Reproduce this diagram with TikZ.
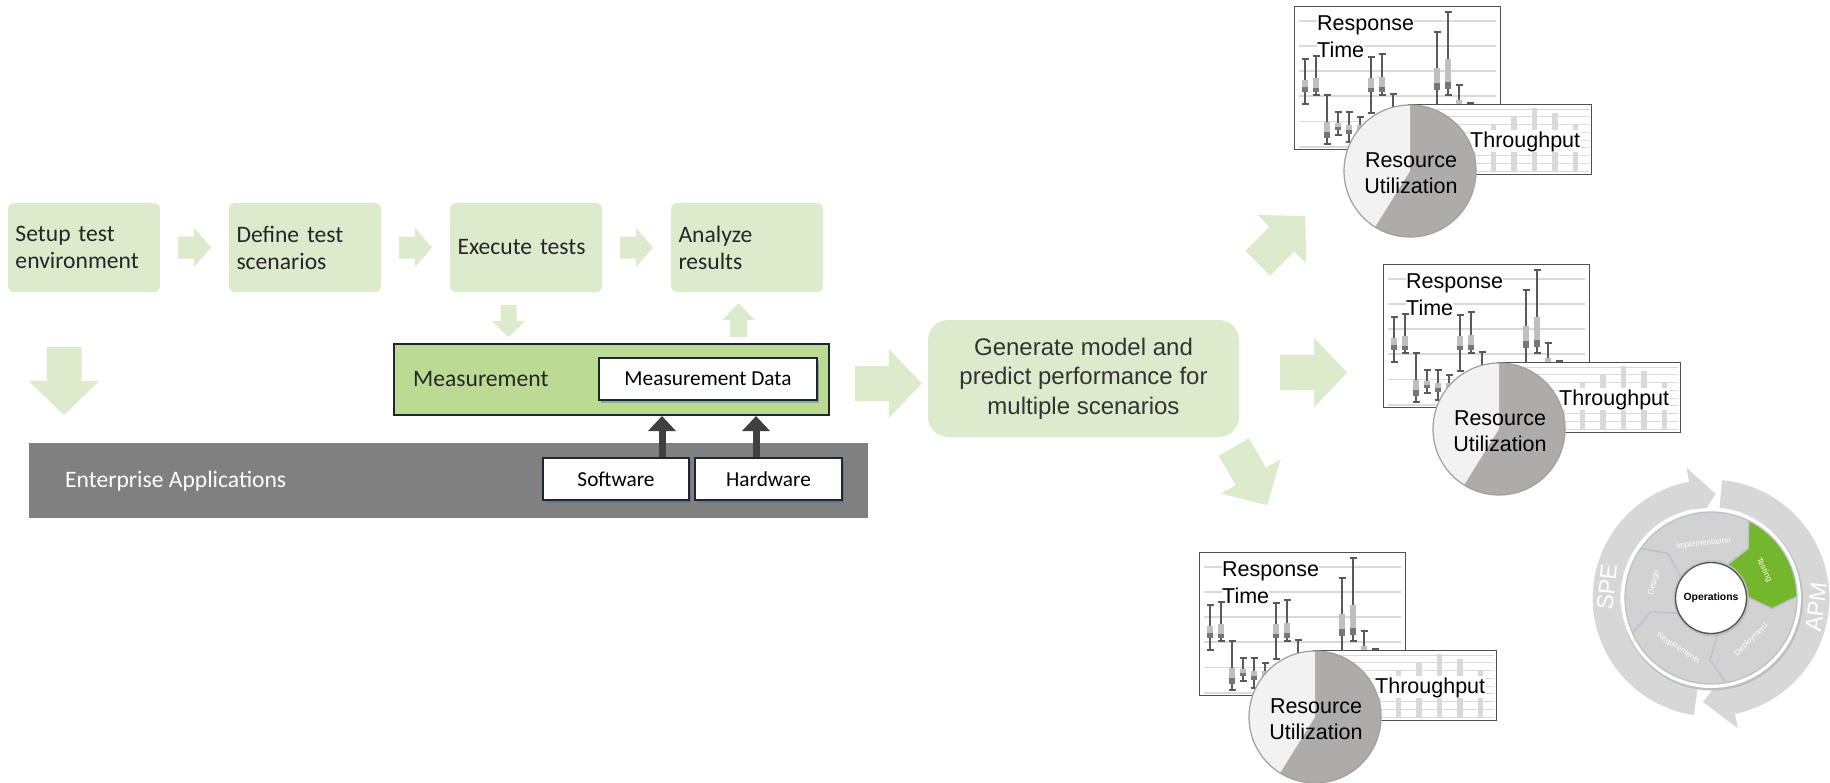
\documentclass[tikz,border=0pt]{standalone}
\usepackage{fontspec}
\setmainfont{Carlito}
\newfontfamily\arial{Liberation Sans}
\usetikzlibrary{arrows.meta,calc,shadows}

\definecolor{stepgreen}{RGB}{221,235,205}
\definecolor{measgreen}{RGB}{187,219,149}
\definecolor{navy}{RGB}{30,38,52}
\definecolor{entgray}{RGB}{128,128,128}
\definecolor{arrowdark}{RGB}{64,64,64}
\definecolor{txtdark}{RGB}{38,38,38}
\definecolor{gentxt}{RGB}{51,51,51}
\definecolor{shadowblue}{RGB}{70,100,140}
\definecolor{framegray}{RGB}{80,80,80}
\definecolor{gridgray}{RGB}{217,217,217}
\definecolor{whiskgray}{RGB}{89,89,89}
\definecolor{boxltgray}{RGB}{191,191,191}
\definecolor{boxdkgray}{RGB}{118,118,118}
\definecolor{barsgray}{RGB}{217,217,217}
\definecolor{pielight}{RGB}{242,242,242}
\definecolor{piedark}{RGB}{174,171,170}
\definecolor{pieedge}{RGB}{160,160,160}
\definecolor{ringgray}{RGB}{215,215,215}
\definecolor{seggray}{RGB}{210,210,210}
\definecolor{segline}{RGB}{188,194,202}
\definecolor{testgreen}{RGB}{116,182,44}
\definecolor{rimshadow}{RGB}{190,190,190}

\newcommand\fntStep{\fontsize{23.6}{27}\selectfont}
\newcommand\fntSmall{\fontsize{21.3}{25}\selectfont}
\newcommand\fntGen{\arial\fontsize{24}{29.5}\selectfont}
\newcommand\fntChart{\arial\fontsize{21.5}{26}\selectfont}
\newcommand\fntSeg{\arial\fontsize{8}{9.6}\selectfont}
\newcommand\fntOps{\arial\bfseries\fontsize{10.4}{12}\selectfont}
\newcommand\fntRing{\arial\fontsize{23}{27}\selectfont}

% block arrow centred on a coordinate: #1 centre, #2 angle, #3 length,
% #4 head length, #5 shaft half width, #6 head half width, #7 colour
\newcommand\blockarrow[7]{%
  \fill[#7, shift={(#1)}, rotate=#2]
    (-#3/2,-#5) -- (#3/2-#4,-#5) -- (#3/2-#4,-#6) -- (#3/2,0)
    -- (#3/2-#4,#6) -- (#3/2-#4,#5) -- (-#3/2,#5) -- cycle;}

% box-and-whisker: x, top, bottom, box top, median, box bottom
\newcommand\ebar[6]{%
  \draw[whisk] (#1,#2) -- (#1,#3) (#1-3.5,#2) -- (#1+3.5,#2) (#1-3.5,#3) -- (#1+3.5,#3);
  \fill[boxltgray] (#1-2.8,#4) rectangle (#1+2.8,#5);
  \fill[boxdkgray] (#1-2.8,#5) rectangle (#1+2.8,#6);}

% throughput bar: x, top
\newcommand\tpbar[2]{\fill[barsgray] (#1-2.7,#2) rectangle (#1+2.7,172);}

% one group of performance charts: #1 name prefix, #2/#3 offset
\newcommand\perfcluster[3]{%
 \begin{scope}[shift={(#2,#3)}]
  \node[panel, anchor=north west, minimum width=206pt, minimum height=143pt] (#1rt) at (1294,6) {};
  \foreach \gy in {20.7,45.9,71.1,96.3,121.5,146.7}
    \draw[gridln] (1299,\gy) -- (1496,\gy);
  \node[chartlbl, fill=white, anchor=base west] (#1rtA) at (1317,30) {Response};
  \node[chartlbl, fill=white, anchor=base west] (#1rtB) at (1317,57) {Time};
  \ebar{1305}{59}{104}{80}{87}{92}
  \ebar{1316}{56}{95}{78}{88}{92}
  \ebar{1327}{95}{144}{122}{132}{138}
  \ebar{1338}{112}{135}{123}{127}{130}
  \ebar{1349}{112}{142}{125}{130}{134}
  \ebar{1360}{117}{145}{125}{131}{136}
  \ebar{1371}{57}{113}{78}{88}{92}
  \ebar{1382}{54}{95}{77}{87}{92}
  \ebar{1393}{94}{140}{110}{118}{124}
  \ebar{1437}{32}{120}{68}{83}{90}
  \ebar{1448}{12}{95}{59}{82}{89}
  \ebar{1459}{85}{130}{100}{108}{114}
  \ebar{1470}{103}{130}{110}{116}{120}
  \node[panel, anchor=north west, minimum width=183pt, minimum height=70pt] (#1tp) at (1408,104) {};
  \foreach \k in {0,...,8}
    \draw[gridthin] (1411,109+\k*7.75) -- (1589,109+\k*7.75);
  \tpbar{1473}{135}\tpbar{1493.5}{124}\tpbar{1514}{117}
  \tpbar{1534.5}{108}\tpbar{1555}{113}\tpbar{1575.5}{124}
  \node[chartlbl, fill=white, inner sep=1pt, anchor=base west] (#1tpl) at (1469,147) {Throughput};
  \coordinate (#1pc) at (1410,171);
  \fill[piedark] (#1pc) circle[radius=66pt];
  \fill[pielight] (#1pc) -- ++(90:66pt) arc[start angle=90, end angle=238, radius=66pt] -- cycle;
  \draw[pieedge, line width=1.2pt] (#1pc) circle[radius=66pt];
  \node[chartlbl, anchor=base] (#1ruA) at (1411,167) {Resource};
  \node[chartlbl, anchor=base] (#1ruB) at (1411,193) {Utilization};
 \end{scope}}

% cycle segment with chevron ends: #1 start angle, #2 end angle, #3 fill
\newcommand\cycseg[3]{%
  \filldraw[fill=#3, draw=segline, line width=1.3pt, line join=round]
    ($(cc)+(#1:86pt)$) arc[start angle=#1, end angle=#2, radius=86pt]
    -- ($(cc)+(#2-11:62pt)$) -- ($(cc)+(#2:37pt)$)
    arc[start angle=#2, end angle=#1, radius=37pt]
    -- ($(cc)+(#1-11:62pt)$) -- cycle;}

\begin{document}
\begin{tikzpicture}[x=1pt, y=-1pt,
  stepbox/.style={fill=stepgreen, rounded corners=6pt, minimum height=89pt,
    text width=137pt, inner xsep=7.5pt, inner ysep=0pt, align=left,
    text=txtdark, font=\fntStep},
  measbox/.style={fill=measgreen, draw=navy, line width=2pt, inner sep=0pt},
  whitebox/.style={fill=white, draw=navy, line width=2pt, inner sep=0pt,
    text=black, font=\fntSmall,
    drop shadow={shadow xshift=2pt, shadow yshift=-3pt, fill=shadowblue, opacity=0.4}},
  darkarrow/.style={draw=arrowdark, line width=7pt, -{Triangle[width=27pt,length=15pt]}},
  genbox/.style={fill=stepgreen, rounded corners=20pt, minimum width=311pt,
    minimum height=117pt, align=center, text=gentxt, font=\fntGen, inner sep=0pt},
  panel/.style={fill=white, draw=framegray, line width=1.4pt, inner sep=0pt},
  gridln/.style={draw=gridgray, line width=1.8pt},
  gridthin/.style={draw=gridgray, line width=0.9pt},
  whisk/.style={draw=whiskgray, line width=1.6pt},
  chartlbl/.style={font=\fntChart, text=black, inner sep=0pt},
  seglabel/.style={font=\fntSeg, text=white, inner sep=0pt},
]
\useasboundingbox (0,0) rectangle (1830,782);
\fill[white] (0,0) rectangle (1830,782);

% ---- test process steps
\node[stepbox] (b1) at (84,247.5) {Setup test\\environment};
\node[stepbox] (b2) at (305,247.5) {Define test\\scenarios};
\node[stepbox] (b3) at (526,247.5) {Execute tests};
\node[stepbox] (b4) at (747,247.5) {Analyze\\results};

\coordinate (a12) at ($(b1.east)!.5!(b2.west)$);
\coordinate (a23) at ($(b2.east)!.5!(b3.west)$);
\coordinate (a34) at ($(b3.east)!.5!(b4.west)$);
\blockarrow{a12}{0}{33}{17}{11}{19.5}{stepgreen}
\blockarrow{a23}{0}{33}{17}{11}{19.5}{stepgreen}
\blockarrow{a34}{0}{33}{17}{11}{19.5}{stepgreen}

% ---- measurement and the system under test
\node[measbox, anchor=north west, minimum width=435pt, minimum height=71pt] (meas) at (393,343) {};
\node[anchor=west, font=\fntStep, text=txtdark, inner sep=0pt] (measlbl) at ($(meas.west)+(20,0)$) {Measurement};
\node[whitebox, minimum width=218pt, minimum height=42pt] (mdata) at (708,379) {Measurement Data};

\coordinate (adn) at ($(b3.south)+(-17.5,29)$);
\coordinate (aup) at ($(b4.south)+(-8.5,28)$);
\blockarrow{adn}{-90}{32}{16}{8}{16.5}{stepgreen}
\blockarrow{aup}{90}{34}{17}{8.5}{16.5}{stepgreen}

\coordinate (abig) at ($(b1.south)+(-20,89)$);
\blockarrow{abig}{-90}{68}{34}{17.5}{35}{stepgreen}

\node[fill=entgray, minimum width=839pt, minimum height=75pt, anchor=north west, inner sep=0pt] (ent) at (29,443) {};
\node[anchor=west, text=white, font=\fntStep, inner sep=0pt] (entlbl) at ($(ent.west)+(36,0)$) {Enterprise Applications};
\node[whitebox, minimum width=146pt, minimum height=42pt] (sw) at (616,479) {Software};
\node[whitebox, minimum width=147pt, minimum height=42pt] (hw) at (768.5,479) {Hardware};

\coordinate (swtop) at ([xshift=46pt]sw.north);
\coordinate (hwtop) at ([xshift=-12.5pt]hw.north);
\draw[darkarrow] (swtop) -- (swtop |- meas.south);
\draw[darkarrow] (hwtop) -- (hwtop |- meas.south);

% ---- model generation
\node[genbox] (gen) at (1083.5,378.5) {Generate model and\\predict performance for\\multiple scenarios};
\coordinate (aright) at ($(gen.west)+(-39.5,5)$);
\blockarrow{aright}{0}{67}{33}{17.5}{34.5}{stepgreen}

\coordinate (aur) at ($(gen.east)+(42.3,-138.8)$);
\coordinate (ar) at ($(gen.east)+(74.5,-6)$);
\coordinate (adr) at ($(gen.east)+(11.3,97.5)$);
\blockarrow{aur}{45}{67}{33}{17.5}{34.5}{stepgreen}
\blockarrow{ar}{0}{67}{33}{17.5}{34.5}{stepgreen}
\blockarrow{adr}{-60}{67}{33}{17.5}{34.5}{stepgreen}

% ---- predicted performance charts
\perfcluster{c1}{0}{0}
\perfcluster{c2}{89}{258}
\perfcluster{c3}{-95}{546}

% ---- SPE / APM life cycle
\coordinate (cc) at (1711,598);
\filldraw[fill=ringgray, draw=white, line width=1.2pt]
  ($(cc)+(262:119pt)$) arc[start angle=262, end angle=101, radius=119pt]
  -- ($(cc)+(101:135pt)$) -- ($(cc)+(87:104.5pt)$) -- ($(cc)+(101:74pt)$)
  -- ($(cc)+(101:90pt)$) arc[start angle=101, end angle=262, radius=90pt] -- cycle;
\filldraw[fill=ringgray, draw=white, line width=1.2pt]
  ($(cc)+(85:119pt)$) arc[start angle=85, end angle=-78, radius=119pt]
  -- ($(cc)+(-78:135pt)$) -- ($(cc)+(-95:104.5pt)$) -- ($(cc)+(-78:74pt)$)
  -- ($(cc)+(-78:90pt)$) arc[start angle=-78, end angle=85, radius=90pt] -- cycle;

\fill[rimshadow] ($(cc)+(1pt,-1.5pt)$) circle[radius=91pt];
\fill[white] (cc) circle[radius=90pt];
\cycseg{145}{64}{seggray}
\cycseg{64}{1}{testgreen}
\cycseg{1}{-80}{seggray}
\cycseg{280}{204}{seggray}
\cycseg{204}{145}{seggray}

\fill[rimshadow] ($(cc)+(0.8pt,-1.2pt)$) circle[radius=37pt];
\node[circle, fill=white, draw=framegray, line width=1.3pt, minimum size=71pt,
      inner sep=0pt, font=\fntOps, text=black] (ops) at (cc) {Operations};

\node[seglabel, rotate=6] (limp) at ($(cc)+(98:55pt)$) {Implementation};
\node[seglabel, rotate=-64] (ltest) at ($(cc)+(28:60pt)$) {Testing};
\node[seglabel, rotate=44] (ldep) at ($(cc)+(-46:58pt)$) {Deployment};
\node[seglabel, rotate=-33] (lreq) at ($(cc)+(237:60pt)$) {Requirements};
\node[seglabel, rotate=75] (ldes) at ($(cc)+(165:59pt)$) {Design};

\node[font=\fntRing, text=white, rotate=84, inner sep=0pt] (spe) at (1607,587) {SPE};
\node[font=\fntRing, text=white, rotate=83, inner sep=0pt] (apm) at (1816,607) {APM};
\end{tikzpicture}
\end{document}
